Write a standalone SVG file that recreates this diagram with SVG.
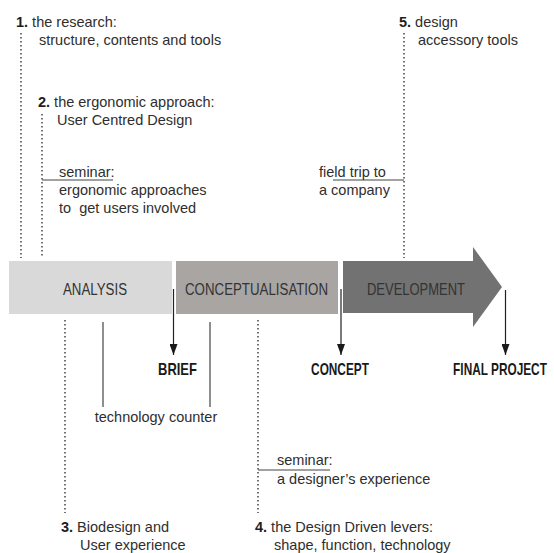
<svg xmlns="http://www.w3.org/2000/svg" width="554" height="553" viewBox="0 0 554 553">
<style>
.t{font-family:"Liberation Sans",Arial,sans-serif;font-size:14.5px;fill:#2e2e2e}
.n{font-weight:bold;fill:#1e1e1e}
.bar{font-family:"Liberation Sans",Arial,sans-serif;font-size:16px;fill:#333;text-anchor:middle}
.out{font-family:"Liberation Sans",Arial,sans-serif;font-size:16px;font-weight:bold;fill:#1a1a1a;text-anchor:middle}
.dot{stroke:#444;stroke-width:1.5;stroke-dasharray:1.6 2.4;fill:none}
.sol{stroke:#444;stroke-width:1.2;fill:none}
.arr{stroke:#222;stroke-width:1.2;fill:none}
</style>
<defs>
<marker id="ah" viewBox="0 0 11 8" refX="11" refY="4" markerWidth="11" markerHeight="8" markerUnits="userSpaceOnUse" orient="auto">
<path d="M0,0 L11,4 L0,8 Z" fill="#1a1a1a"/>
</marker>
</defs>
<rect width="554" height="553" fill="#fff"/>

<g id="phases">
<g id="analysis">
<rect x="9" y="261" width="163" height="53" fill="#d9d9d9"/>
<text class="bar" x="95" y="295" textLength="64" lengthAdjust="spacingAndGlyphs">ANALYSIS</text>
</g>
<g id="conceptualisation">
<rect x="176" y="261" width="162" height="53" fill="#a8a5a3"/>
<text class="bar" x="256.5" y="295" textLength="143" lengthAdjust="spacingAndGlyphs">CONCEPTUALISATION</text>
</g>
<g id="development">
<path d="M343,261 L473,261 L473,247 L502,287 L473,327 L473,313 L343,313 Z" fill="#727272"/>
<text class="bar" x="416" y="295" textLength="98" lengthAdjust="spacingAndGlyphs">DEVELOPMENT</text>
</g>
</g>

<g id="connectors">
<line class="dot" x1="21" y1="33" x2="21" y2="258"/>
<line class="dot" x1="42" y1="114" x2="42" y2="258"/>
<line class="sol" x1="42" y1="180" x2="113" y2="180"/>
<line class="dot" x1="404" y1="33" x2="404" y2="258"/>
<line class="sol" x1="333" y1="180" x2="404" y2="180"/>
<line class="dot" x1="65" y1="320" x2="65" y2="513"/>
<line class="dot" x1="258" y1="320" x2="258" y2="513"/>
<line class="sol" x1="258" y1="470" x2="330" y2="470"/>
<line class="sol" x1="103" y1="322" x2="103" y2="407"/>
<line class="sol" x1="210" y1="322" x2="210" y2="407"/>
<line class="arr" x1="173.5" y1="289" x2="173.5" y2="355" marker-end="url(#ah)"/>
<line class="arr" x1="341" y1="289" x2="341" y2="355" marker-end="url(#ah)"/>
<line class="arr" x1="505.5" y1="290" x2="505.5" y2="355" marker-end="url(#ah)"/>
</g>

<g id="outputs">
<text id="brief" class="out" transform="translate(177.5,375) scale(0.81,1)">BRIEF</text>
<text id="concept" class="out" transform="translate(340,375) scale(0.74,1)">CONCEPT</text>
<text id="final-project" class="out" transform="translate(500,375) scale(0.74,1)">FINAL PROJECT</text>
</g>

<g id="step1">
<text class="t" x="16" y="27"><tspan class="n">1.</tspan> the research:</text>
<text class="t" x="39" y="45">structure, contents and tools</text>
</g>
<g id="step2">
<text class="t" x="38" y="107"><tspan class="n">2.</tspan> the ergonomic approach:</text>
<text class="t" x="57" y="125">User Centred Design</text>
</g>
<g id="seminar1">
<text class="t" x="59" y="177">seminar:</text>
<text class="t" x="59" y="195">ergonomic approaches</text>
<text class="t" x="59" y="213" xml:space="preserve">to  get users involved</text>
</g>
<g id="step5">
<text class="t" x="399" y="27"><tspan class="n">5.</tspan> design</text>
<text class="t" x="418" y="45">accessory tools</text>
</g>
<g id="fieldtrip">
<text class="t" x="319" y="177">field trip to</text>
<text class="t" x="319" y="195">a company</text>
</g>
<g id="techcounter">
<text class="t" x="156" y="422" text-anchor="middle">technology counter</text>
</g>
<g id="seminar2">
<text class="t" x="277" y="465">seminar:</text>
<text class="t" x="277" y="484">a designer’s experience</text>
</g>
<g id="step3">
<text class="t" x="61" y="532"><tspan class="n">3.</tspan> Biodesign and</text>
<text class="t" x="80" y="550">User experience</text>
</g>
<g id="step4">
<text class="t" x="255" y="532"><tspan class="n">4.</tspan> the Design Driven levers:</text>
<text class="t" x="274" y="550">shape, function, technology</text>
</g>
</svg>
